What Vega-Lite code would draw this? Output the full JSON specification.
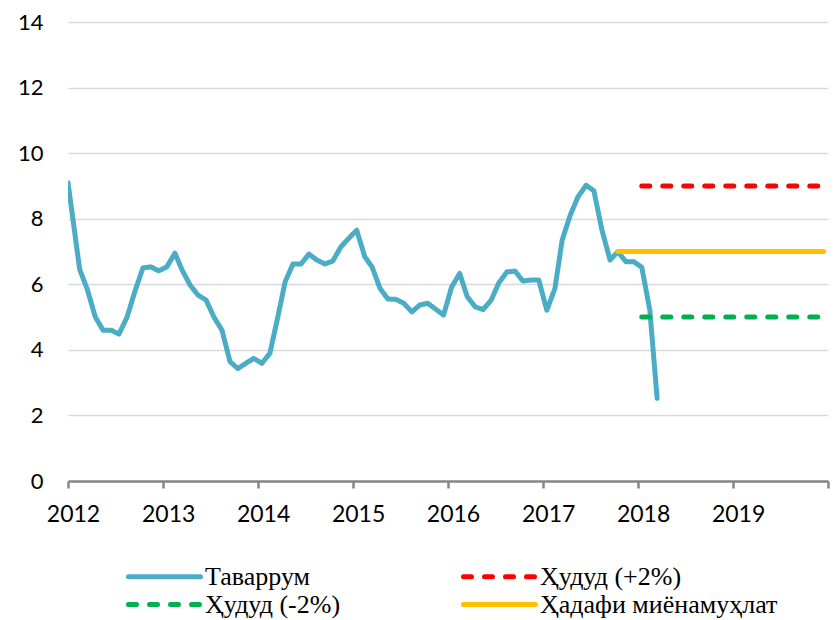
{
  "$schema": "https://vega.github.io/schema/vega-lite/v6.json",
  "width": 760,
  "height": 459,
  "autosize": "none",
  "padding": {"left": 68, "top": 22, "right": 12, "bottom": 139},
  "background": "white",
  "config": {"view": {"stroke": null}},
  "datasets": {
    "series": [
      {"date": "2012-01-01", "value": 9.1, "series": "Таваррум"},
      {"date": "2012-02-15", "value": 6.45, "series": "Таваррум"},
      {"date": "2012-03-15", "value": 5.85, "series": "Таваррум"},
      {"date": "2012-04-15", "value": 5.0, "series": "Таваррум"},
      {"date": "2012-05-15", "value": 4.6, "series": "Таваррум"},
      {"date": "2012-06-15", "value": 4.6, "series": "Таваррум"},
      {"date": "2012-07-15", "value": 4.48, "series": "Таваррум"},
      {"date": "2012-08-15", "value": 5.0, "series": "Таваррум"},
      {"date": "2012-09-15", "value": 5.8, "series": "Таваррум"},
      {"date": "2012-10-15", "value": 6.5, "series": "Таваррум"},
      {"date": "2012-11-15", "value": 6.53, "series": "Таваррум"},
      {"date": "2012-12-15", "value": 6.41, "series": "Таваррум"},
      {"date": "2013-01-15", "value": 6.53, "series": "Таваррум"},
      {"date": "2013-02-15", "value": 6.95, "series": "Таваррум"},
      {"date": "2013-03-15", "value": 6.43, "series": "Таваррум"},
      {"date": "2013-04-15", "value": 5.97, "series": "Таваррум"},
      {"date": "2013-05-15", "value": 5.67, "series": "Таваррум"},
      {"date": "2013-06-15", "value": 5.52, "series": "Таваррум"},
      {"date": "2013-07-15", "value": 5.0, "series": "Таваррум"},
      {"date": "2013-08-15", "value": 4.6, "series": "Таваррум"},
      {"date": "2013-09-15", "value": 3.64, "series": "Таваррум"},
      {"date": "2013-10-15", "value": 3.43, "series": "Таваррум"},
      {"date": "2013-11-15", "value": 3.59, "series": "Таваррум"},
      {"date": "2013-12-15", "value": 3.74, "series": "Таваррум"},
      {"date": "2014-01-15", "value": 3.59, "series": "Таваррум"},
      {"date": "2014-02-15", "value": 3.89, "series": "Таваррум"},
      {"date": "2014-03-15", "value": 4.9, "series": "Таваррум"},
      {"date": "2014-04-15", "value": 6.08, "series": "Таваррум"},
      {"date": "2014-05-15", "value": 6.62, "series": "Таваррум"},
      {"date": "2014-06-15", "value": 6.62, "series": "Таваррум"},
      {"date": "2014-07-15", "value": 6.92, "series": "Таваррум"},
      {"date": "2014-08-15", "value": 6.74, "series": "Таваррум"},
      {"date": "2014-09-15", "value": 6.62, "series": "Таваррум"},
      {"date": "2014-10-15", "value": 6.71, "series": "Таваррум"},
      {"date": "2014-11-15", "value": 7.14, "series": "Таваррум"},
      {"date": "2014-12-15", "value": 7.4, "series": "Таваррум"},
      {"date": "2015-01-15", "value": 7.65, "series": "Таваррум"},
      {"date": "2015-02-15", "value": 6.84, "series": "Таваррум"},
      {"date": "2015-03-15", "value": 6.53, "series": "Таваррум"},
      {"date": "2015-04-15", "value": 5.87, "series": "Таваррум"},
      {"date": "2015-05-15", "value": 5.55, "series": "Таваррум"},
      {"date": "2015-06-15", "value": 5.54, "series": "Таваррум"},
      {"date": "2015-07-15", "value": 5.42, "series": "Таваррум"},
      {"date": "2015-08-15", "value": 5.16, "series": "Таваррум"},
      {"date": "2015-09-15", "value": 5.37, "series": "Таваррум"},
      {"date": "2015-10-15", "value": 5.42, "series": "Таваррум"},
      {"date": "2015-11-15", "value": 5.24, "series": "Таваррум"},
      {"date": "2015-12-15", "value": 5.06, "series": "Таваррум"},
      {"date": "2016-01-15", "value": 5.92, "series": "Таваррум"},
      {"date": "2016-02-15", "value": 6.33, "series": "Таваррум"},
      {"date": "2016-03-15", "value": 5.62, "series": "Таваррум"},
      {"date": "2016-04-15", "value": 5.31, "series": "Таваррум"},
      {"date": "2016-05-15", "value": 5.23, "series": "Таваррум"},
      {"date": "2016-06-15", "value": 5.52, "series": "Таваррум"},
      {"date": "2016-07-15", "value": 6.05, "series": "Таваррум"},
      {"date": "2016-08-15", "value": 6.38, "series": "Таваррум"},
      {"date": "2016-09-15", "value": 6.4, "series": "Таваррум"},
      {"date": "2016-10-15", "value": 6.1, "series": "Таваррум"},
      {"date": "2016-11-15", "value": 6.13, "series": "Таваррум"},
      {"date": "2016-12-15", "value": 6.13, "series": "Таваррум"},
      {"date": "2017-01-15", "value": 5.21, "series": "Таваррум"},
      {"date": "2017-02-15", "value": 5.87, "series": "Таваррум"},
      {"date": "2017-03-15", "value": 7.35, "series": "Таваррум"},
      {"date": "2017-04-15", "value": 8.11, "series": "Таваррум"},
      {"date": "2017-05-15", "value": 8.67, "series": "Таваррум"},
      {"date": "2017-06-15", "value": 9.02, "series": "Таваррум"},
      {"date": "2017-07-15", "value": 8.85, "series": "Таваррум"},
      {"date": "2017-08-15", "value": 7.65, "series": "Таваррум"},
      {"date": "2017-09-15", "value": 6.74, "series": "Таваррум"},
      {"date": "2017-10-15", "value": 6.99, "series": "Таваррум"},
      {"date": "2017-11-15", "value": 6.69, "series": "Таваррум"},
      {"date": "2017-12-15", "value": 6.69, "series": "Таваррум"},
      {"date": "2018-01-15", "value": 6.52, "series": "Таваррум"},
      {"date": "2018-02-15", "value": 5.21, "series": "Таваррум"},
      {"date": "2018-03-15", "value": 2.52, "series": "Таваррум"},
      {"date": "2018-01-15", "value": 9, "series": "Ҳудуд (+2%)"},
      {"date": "2019-12-15", "value": 9, "series": "Ҳудуд (+2%)"},
      {"date": "2018-01-15", "value": 5, "series": "Ҳудуд (-2%)"},
      {"date": "2019-12-15", "value": 5, "series": "Ҳудуд (-2%)"},
      {"date": "2017-10-15", "value": 7, "series": "Ҳадафи миёнамуҳлат"},
      {"date": "2019-12-15", "value": 7, "series": "Ҳадафи миёнамуҳлат"}
    ]
  },
  "data": {"name": "series"},
  "mark": {"type": "line", "clip": true, "strokeWidth": 5, "strokeCap": "round", "strokeJoin": "round"},
  "encoding": {
    "x": {
      "field": "date",
      "type": "temporal",
      "scale": {"domain": [{"year": 2012, "month": 1, "date": 1}, {"year": 2020, "month": 1, "date": 1}]},
      "axis": {
        "title": null,
        "values": [
          {"year": 2012, "month": 1, "date": 1}, {"year": 2013, "month": 1, "date": 1},
          {"year": 2014, "month": 1, "date": 1}, {"year": 2015, "month": 1, "date": 1},
          {"year": 2016, "month": 1, "date": 1}, {"year": 2017, "month": 1, "date": 1},
          {"year": 2018, "month": 1, "date": 1}, {"year": 2019, "month": 1, "date": 1},
          {"year": 2020, "month": 1, "date": 1}
        ],
        "labelExpr": "year(datum.value) == 2020 ? '' : timeFormat(datum.value, '%Y')",
        "grid": false,
        "domainColor": "#868686",
        "domainWidth": 2.5,
        "tickColor": "#868686",
        "tickWidth": 2.5,
        "tickSize": 7,
        "labelFont": "Lato",
        "labelFontSize": 23,
        "labelColor": "#000000",
        "labelPadding": 15,
        "labelOffset": 5,
        "labelFlush": false,
        "labelOverlap": false
      }
    },
    "y": {
      "field": "value",
      "type": "quantitative",
      "scale": {"domain": [0, 14], "nice": false},
      "axis": {
        "title": null,
        "values": [0, 2, 4, 6, 8, 10, 12, 14],
        "domain": false,
        "ticks": false,
        "grid": true,
        "gridColor": "#D9D9D9",
        "gridWidth": 1.5,
        "labelFont": "Lato",
        "labelFontSize": 22,
        "labelColor": "#000000",
        "labelPadding": 25
      }
    },
    "color": {
      "field": "series",
      "type": "nominal",
      "sort": ["Таваррум", "Ҳудуд (+2%)", "Ҳудуд (-2%)", "Ҳадафи миёнамуҳлат"],
      "scale": {
        "domain": ["Таваррум", "Ҳудуд (+2%)", "Ҳудуд (-2%)", "Ҳадафи миёнамуҳлат"],
        "range": ["#4BACC6", "#FF0000", "#00B050", "#FFC000"]
      },
      "legend": {
        "title": null,
        "orient": "none",
        "legendX": 82,
        "legendY": 540,
        "direction": "horizontal",
        "columns": 2,
        "columnPadding": 112,
        "rowPadding": 0,
        "padding": 0,
        "symbolType": "M-3,0H3",
        "symbolSize": 576,
        "symbolStrokeWidth": 5,
        "labelFont": "Liberation Serif",
        "labelFontSize": 26,
        "labelColor": "#000000",
        "labelOffset": 26,
        "labelLimit": 400,
        "encode": {"symbols": {"update": {"strokeCap": {"value": "round"}}}}
      }
    },
    "strokeDash": {
      "field": "series",
      "type": "nominal",
      "sort": ["Таваррум", "Ҳудуд (+2%)", "Ҳудуд (-2%)", "Ҳадафи миёнамуҳлат"],
      "scale": {
        "domain": ["Таваррум", "Ҳудуд (+2%)", "Ҳудуд (-2%)", "Ҳадафи миёнамуҳлат"],
        "range": [[1, 0], [8, 13], [8, 13], [1, 0]]
      },
      "legend": null
    },
    "order": {"field": "date", "type": "temporal"}
  }
}
